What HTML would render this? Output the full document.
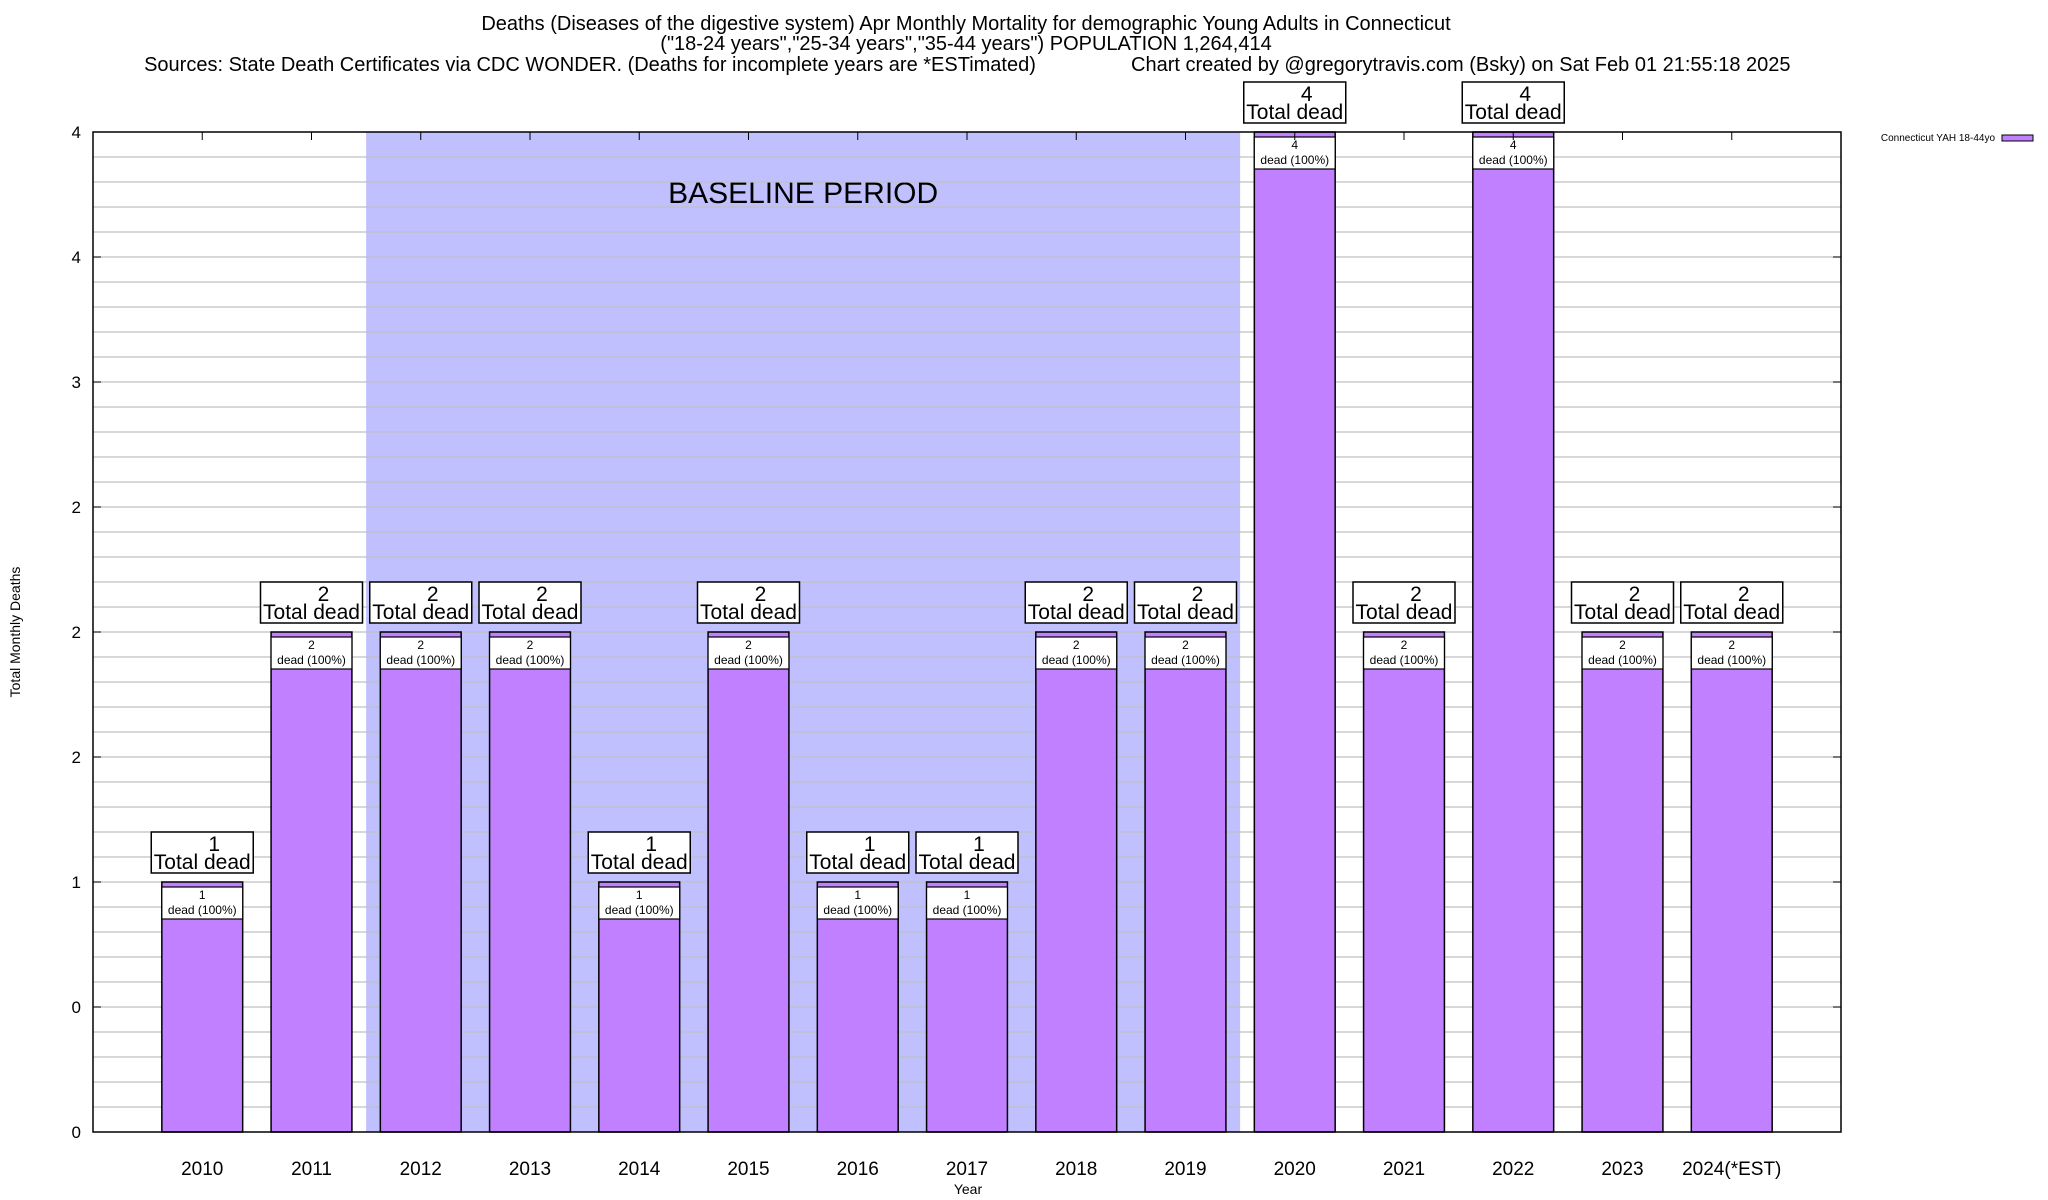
<!DOCTYPE html>
<html><head><meta charset="utf-8"><style>
html,body{margin:0;padding:0;background:#fff;}
svg{display:block;font-family:"Liberation Sans",Arial,sans-serif;}
</style></head><body>
<svg id="chart" width="2048" height="1200" viewBox="0 0 2048 1200">
<g>
<text x="966" y="30" text-anchor="middle" font-size="20">Deaths (Diseases of the digestive system) Apr Monthly Mortality for demographic Young Adults in Connecticut</text>
<text x="966" y="50" text-anchor="middle" font-size="20">("18-24 years","25-34 years","35-44 years") POPULATION 1,264,414</text>
<text x="590" y="71" text-anchor="middle" font-size="20">Sources: State Death Certificates via CDC WONDER. (Deaths for incomplete years are *ESTimated)</text>
<text x="1131" y="71" font-size="20">Chart created by @gregorytravis.com (Bsky) on Sat Feb 01 21:55:18 2025</text>
</g>
<g id="plot"></g>
<text x="20" y="632" transform="rotate(-90 20 632)" text-anchor="middle" font-size="14">Total Monthly Deaths</text>
<text x="968" y="1194" text-anchor="middle" font-size="14">Year</text>
<g>
<text x="1995" y="141" text-anchor="end" font-size="10">Connecticut YAH 18-44yo</text>
<rect x="2002" y="135" width="31" height="6" fill="#c080ff" stroke="#000" stroke-width="1"></rect>
</g>
</svg>
<script>
const categories = ["2010","2011","2012","2013","2014","2015","2016","2017","2018","2019","2020","2021","2022","2023","2024(*EST)"];
const deaths = [1,2,2,2,1,2,1,1,2,2,4,2,4,2,2];
const yTicks = [0,0.5,1,1.5,2,2.5,3,3.5,4];
const baseline = [1.5,9.5];

const NS="http://www.w3.org/2000/svg";
const L=93,R=1841,T=132,B=1132;
const x=i=>L+(i+1)*(R-L)/16;
const y=v=>B-(v/4)*(B-T);
const bw=0.74*(R-L)/16;
const g=document.getElementById('plot');
function el(tag,attrs,parent){const e=document.createElementNS(NS,tag);for(const k in attrs)e.setAttribute(k,attrs[k]);(parent||g).appendChild(e);return e;}
function roundEven(v){const f=Math.floor(v),d=v-f;if(Math.abs(d-0.5)<1e-9)return f%2===0?f:f+1;return Math.round(v);}

const bg=el('rect',{x:x(baseline[0]),y:T,width:x(baseline[1])-x(baseline[0]),height:B-T,fill:'#c0c0ff'});


const bt=el('text',{x:(x(baseline[0])+x(baseline[1]))/2,y:203,'text-anchor':'middle','font-size':30});
bt.textContent='BASELINE PERIOD';



for(let v=0.1;v<4;v+=0.1){
  const gl=el('line',{x1:L,x2:R,y1:y(v),y2:y(v),stroke:'#c0c0c0','stroke-width':1.3});
  
  
}
yTicks.forEach(t=>{
  el('line',{x1:L,x2:L+8,y1:y(t),y2:y(t),stroke:'#000'});
  el('line',{x1:R,x2:R-8,y1:y(t),y2:y(t),stroke:'#000'});
  const tl=el('text',{x:L-12,y:y(t)+6,'text-anchor':'end','font-size':17});
  tl.textContent=roundEven(t);
  
  
});

categories.forEach((c,i)=>{
  const cx=x(i),top=y(deaths[i]);
  const bar=el('rect',{x:cx-bw/2,y:top,width:bw,height:B-top,fill:'#c080ff',stroke:'#000','stroke-width':1.5});
  
  
  el('rect',{x:cx-bw/2,y:top+5,width:bw,height:32,fill:'#fff',stroke:'#000','stroke-width':1.2});
  const t1=el('text',{x:cx,y:top+17,'text-anchor':'middle','font-size':12});t1.textContent=deaths[i];
  const t2=el('text',{x:cx,y:top+32,'text-anchor':'middle','font-size':12});t2.textContent='dead (100%)';
  const box=el('rect',{x:cx-51,y:top-50,width:102,height:41,fill:'#fff',stroke:'#000','stroke-width':1.5});
  
  
  const a=el('text',{x:cx+12,y:top-31,'text-anchor':'middle','font-size':21});a.textContent=deaths[i];
  const b=el('text',{x:cx,y:top-13,'text-anchor':'middle','font-size':21});b.textContent='Total dead';
  el('line',{x1:cx,x2:cx,y1:T,y2:T+8,stroke:'#000'});
  const xl=el('text',{x:cx,y:1175,'text-anchor':'middle','font-size':19});
  xl.textContent=c;
  
  
});
const frame=el('rect',{x:L,y:T,width:R-L,height:B-T,fill:'none',stroke:'#000','stroke-width':1.5});


</script>
</body></html>
